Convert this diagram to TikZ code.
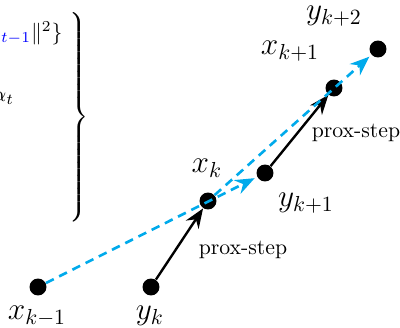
\documentclass[tikz,border=0pt]{standalone}
\usepackage{tikz}
\usetikzlibrary{arrows.meta,positioning,calc}
\usepackage{xcolor}
\definecolor{momblue}{RGB}{0,170,235}

\begin{document}
\begin{tikzpicture}[x=0.46pt, y=-0.46pt,
  dot/.style={circle, fill=black, inner sep=0pt, minimum size=7.8pt},
  iterlabel/.style={font=\Large},
  proxarrow/.style={->, line width=1.1pt, >={Stealth[length=9pt,width=7pt,inset=3pt]}},
  momarrow/.style={->, momblue, line width=1.2pt, dash pattern=on 4pt off 2.8pt,
    shorten >=1.2pt, >={Stealth[length=9pt,width=7pt,inset=3pt]}}]
\useasboundingbox (0,0) rectangle (400,328);
\clip (0,0) rectangle (400,328);
% cut-off formula and brace on the left
\node[anchor=base east, inner sep=0pt] (fone) at (63,39) {${\color{blue}x_{t-1}}\|^2\}$};
\node[anchor=base west, inner sep=0pt] (ftwo) at (-8,101) {$\alpha_t$};
\node[inner sep=0pt, font=\Large] (brace) at (78,119) {$\left.\vrule height 46pt depth 46pt width 0pt\right\}$};
% iterates
\node[dot] (xkm) at (38,287) {};
\node[dot] (yk) at (151,287) {};
\node[dot] (xk) at (208,201) {};
\node[dot] (ykp) at (265,173) {};
\node[dot] (xkp) at (334,88) {};
\node[dot] (ykpp) at (378,49) {};
% labels
\node[iterlabel] (lxkm) at (37,316) {$x_{k-1}$};
\node[iterlabel] (lyk) at (150,316) {$y_k$};
\node[iterlabel] (lxk) at (207,168) {$x_k$};
\node[iterlabel] (lykp) at (306,203) {$y_{k+1}$};
\node[iterlabel] (lxkp) at (290,51) {$x_{k+1}$};
\node[iterlabel] (lykpp) at (334,16) {$y_{k+2}$};
% prox steps
\draw[proxarrow] (yk) -- (xk);
\draw[proxarrow] (ykp) -- (xkp);
\node (pone) at (243,250) {prox-step};
\node (ptwo) at (356,133) {prox-step};
% momentum
\draw[momarrow] (xkm) -- (ykp);
\draw[momarrow] (xk) -- (ykpp);
\end{tikzpicture}
\end{document}
